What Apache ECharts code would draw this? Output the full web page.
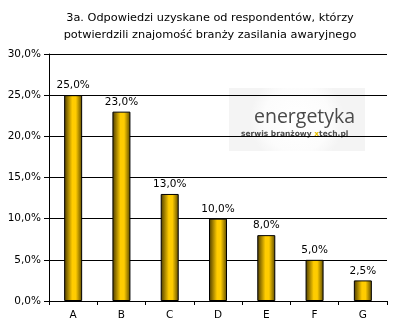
<!DOCTYPE html>
<html>
<head>
<meta charset="utf-8">
<script src="https://cdn.jsdelivr.net/npm/echarts@6/dist/echarts.min.js"></script>
<style>
html,body{margin:0;padding:0;background:#fff;}
#chart{width:400px;height:332px;}
</style>
</head>
<body>
<div id="chart"></div>
<script>
// Answer categories and share of respondents (%)
const categories = ['A', 'B', 'C', 'D', 'E', 'F', 'G'];
const shares = [25.0, 23.0, 13.0, 10.0, 8.0, 5.0, 2.5];
const titleLines = [
  '3a. Odpowiedzi uzyskane od respondentów, którzy',
  'potwierdzili znajomość branży zasilania awaryjnego'
];

const fmt = v => v.toFixed(1).replace('.', ',') + '%';
const FONT = 'DejaVu Sans';

const chart = echarts.init(document.getElementById('chart'), null, {renderer: 'canvas'});

chart.setOption({
  animation: false,
  backgroundColor: '#fff',
  title: {
    text: titleLines.join('\n'),
    left: 205,
    top: 5,
    textAlign: 'center',
    textStyle: {fontFamily: FONT, fontSize: 11.3, fontWeight: 'normal', color: '#000', lineHeight: 17}
  },
  grid: {left: 49, right: 13, top: 54, bottom: 31, containLabel: false},
  xAxis: {
    type: 'category',
    data: categories,
    axisLine: {lineStyle: {color: '#000', width: 1}},
    axisTick: {show: true, alignWithLabel: false, length: 4, lineStyle: {color: '#000'}},
    axisLabel: {fontFamily: FONT, fontSize: 10.5, color: '#000', margin: 9},
    splitLine: {show: false}
  },
  yAxis: {
    type: 'value',
    min: 0, max: 30, interval: 5,
    axisLine: {show: true, lineStyle: {color: '#000', width: 1}},
    axisTick: {show: true, length: 5, lineStyle: {color: '#000'}},
    axisLabel: {fontFamily: FONT, fontSize: 10.5, color: '#000', margin: 8, formatter: v => fmt(v)},
    splitLine: {show: true, lineStyle: {color: '#000', width: 1}}
  },
  series: [{
    type: 'bar',
    data: shares,
    barWidth: 18,
    itemStyle: {
      borderColor: '#000',
      borderWidth: 1,
      color: new echarts.graphic.LinearGradient(0, 0, 1, 0, [
        {offset: 0, color: '#4a3a00'},
        {offset: 0.45, color: '#ffcc00'},
        {offset: 0.65, color: '#ffcc00'},
        {offset: 1, color: '#5a4800'}
      ])
    },
    label: {
      show: true,
      position: 'top',
      distance: 4,
      fontFamily: FONT,
      fontSize: 10.5,
      color: '#000',
      formatter: p => fmt(p.value)
    },
    z: 3
  }],
  graphic: [{
    type: 'group',
    left: 229,
    top: 88,
    z: 10,
    children: [
      {
        type: 'rect',
        shape: {x: 0, y: 0, width: 136, height: 63},
        style: {
          fill: new echarts.graphic.RadialGradient(0.5, 0.5, 0.75, [
            {offset: 0, color: '#ffffff'},
            {offset: 0.7, color: '#fcfcfc'},
            {offset: 1, color: '#f4f4f4'}
          ])
        }
      },
      {
        type: 'text',
        x: 25, y: 19,
        style: {text: 'energetyka', font: '19.5px "Open Sans", "DejaVu Sans", sans-serif', fill: '#4a4a4a'}
      },
      {
        type: 'text',
        x: 12, y: 42,
        style: {
          text: '{a|serwis branżowy }{x|x}{a|tech.pl}',
          rich: {
            a: {font: 'bold 7.5px "DejaVu Sans", sans-serif', fill: '#4a4a4a', color: '#4a4a4a'},
            x: {font: 'bold 7.5px "DejaVu Sans", sans-serif', fill: '#e8c000', color: '#e8c000'}
          }
        }
      }
    ]
  }]
});
</script>
</body>
</html>
